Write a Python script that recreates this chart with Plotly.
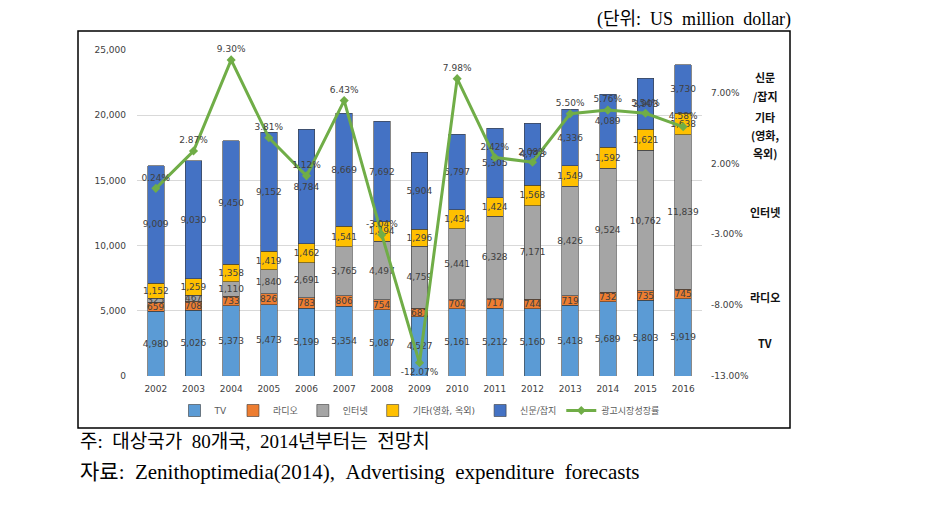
import plotly.graph_objects as go

years = ["2002", "2003", "2004", "2005", "2006", "2007", "2008", "2009",
         "2010", "2011", "2012", "2013", "2014", "2015", "2016"]
tv = [4980, 5026, 5373, 5473, 5199, 5354, 5087, 4527, 5161, 5212, 5160, 5418, 5689, 5803, 5919]
radio = [659, 708, 733, 826, 783, 806, 754, 681, 704, 717, 744, 719, 732, 735, 745]
internet = [325, 467, 1110, 1840, 2691, 3765, 4497, 4759, 5441, 6328, 7171, 8426, 9524, 10762, 11839]
other = [1152, 1259, 1358, 1419, 1462, 1541, 1494, 1296, 1434, 1424, 1568, 1549, 1592, 1621, 1638]
news = [9009, 9030, 9450, 9152, 8784, 8669, 7692, 5904, 5797, 5305, 4738, 4336, 4089, 3903, 3730]
growth = [0.24, 2.87, 9.30, 3.81, 1.12, 6.43, -3.04, -12.07, 7.98, 2.42, 2.08, 5.50, 5.76, 5.54, 4.58]
right_ticks = [-13, -8, -3, 2, 7]

series_names = ["TV", "라디오", "인터넷", "기타(영화, 옥외)", "신문/잡지"]
line_name = "광고시장성장률"
right_labels = [("신문", 77), ("/잡지", 96), ("기타", 117), ("(영화,", 135), ("옥외)", 153),
                ("인터넷", 212), ("라디오", 297), ("TV", 343)]
unit_text = "(단위:  US  million  dollar)"
note1 = "주:  대상국가  80개국,  2014년부터는  전망치"
note2 = "자료:  Zenithoptimedia(2014),  Advertising  expenditure  forecasts"

colors = ["#5B9BD5", "#ED7D31", "#A5A5A5", "#FFC000", "#4472C4"]

# page offset of the figure inside the browser window (default body margin)
OFF = 8
W, H = 927 - OFF, 510 - OFF
# plot area in screenshot pixels
SL, SR, ST, SB = 137, 702, 50, 376
L, R, T, B = SL - OFF, SR - OFF, ST - OFF, SB - OFF

def px(x):
    return (x - SL) / (SR - SL)

def py(y):
    return (SB - y) / (SB - ST)

def nb(s):
    return s.replace("  ", " \u00a0")

FONT = "DejaVu Sans, Noto Sans CJK KR"
SERIF = "Liberation Serif, Noto Sans CJK KR"
fig = go.Figure()
for name, vals, col in zip(series_names, [tv, radio, internet, other, news], colors):
    fig.add_trace(go.Bar(
        x=years, y=vals, name=name,
        marker=dict(color=col, line=dict(color="#3a3a3a", width=0.6)),
        text=[f"{v:,}" for v in vals], textposition="inside",
        insidetextanchor="middle", textangle=0,
        textfont=dict(size=9, color="#404040", family=FONT),
    ))

pos = ["top center"] * len(growth)
pos[7] = "bottom center"
fig.add_trace(go.Scatter(
    x=years, y=growth, name=line_name, yaxis="y2",
    mode="lines+markers+text",
    line=dict(color="#70AD47", width=3),
    marker=dict(symbol="diamond", size=7, color="#70AD47"),
    text=[f"{g:.2f}%" for g in growth], textposition=pos,
    textfont=dict(size=9, color="#404040", family=FONT),
    cliponaxis=False,
))

annotations = []
for txt, yy in right_labels:
    annotations.append(dict(text=f"<b>{txt}</b>", x=px(765), y=py(yy), xref="paper", yref="paper",
                            showarrow=False, xanchor="center", yanchor="middle",
                            font=dict(size=11, color="#111111", family="Noto Sans CJK KR")))
annotations.append(dict(text=nb(unit_text), x=px(792), y=py(OFF), xref="paper", yref="paper",
                        showarrow=False, xanchor="right", yanchor="top", borderpad=0,
                        font=dict(size=18, color="#000000", family=SERIF)))
annotations.append(dict(text=nb(note1), x=px(78), y=py(441), xref="paper", yref="paper",
                        showarrow=False, xanchor="left", yanchor="middle",
                        font=dict(size=19, color="#000000", family=SERIF)))
annotations.append(dict(text=nb(note2), x=px(78), y=py(472), xref="paper", yref="paper",
                        showarrow=False, xanchor="left", yanchor="middle",
                        font=dict(size=21, color="#000000", family=SERIF)))

shapes = [dict(type="rect", xref="paper", yref="paper",
               x0=px(78), x1=px(790), y0=py(428), y1=py(31),
               line=dict(color="#000000", width=1.5), fillcolor="rgba(0,0,0,0)", layer="below")]

fig.update_layout(
    width=W, height=H, barmode="stack", bargap=0.56,
    margin=dict(l=L, r=W - R, t=T, b=H - B, autoexpand=False),
    paper_bgcolor="white", plot_bgcolor="white",
    font=dict(family=FONT, size=9, color="#595959"),
    uniformtext=dict(mode="show", minsize=9),
    xaxis=dict(range=[-0.5, 14.5], showgrid=False, showline=False, ticks="",
               tickfont=dict(size=9, color="#404040"), ticklabelstandoff=6),
    yaxis=dict(range=[0, 25000], dtick=5000, tickformat=",d", showgrid=True, gridcolor="#D9D9D9",
               gridwidth=1, zeroline=False, showline=False, tickfont=dict(size=9, color="#404040"),
               ticklabelstandoff=10),
    yaxis2=dict(range=[-13, 10], tickvals=right_ticks, ticktext=[f"{v:.2f}%" for v in right_ticks],
                overlaying="y", side="right", showgrid=False, zeroline=False, showline=False,
                tickfont=dict(size=9, color="#404040"), ticklabelstandoff=8),
    legend=dict(orientation="h", x=0.5, xanchor="center", y=py(396), yanchor="top",
                font=dict(size=9, color="#595959"), itemwidth=30, traceorder="normal"),
    showlegend=True,
    annotations=annotations, shapes=shapes,
)
fig.write_html("out.html")
